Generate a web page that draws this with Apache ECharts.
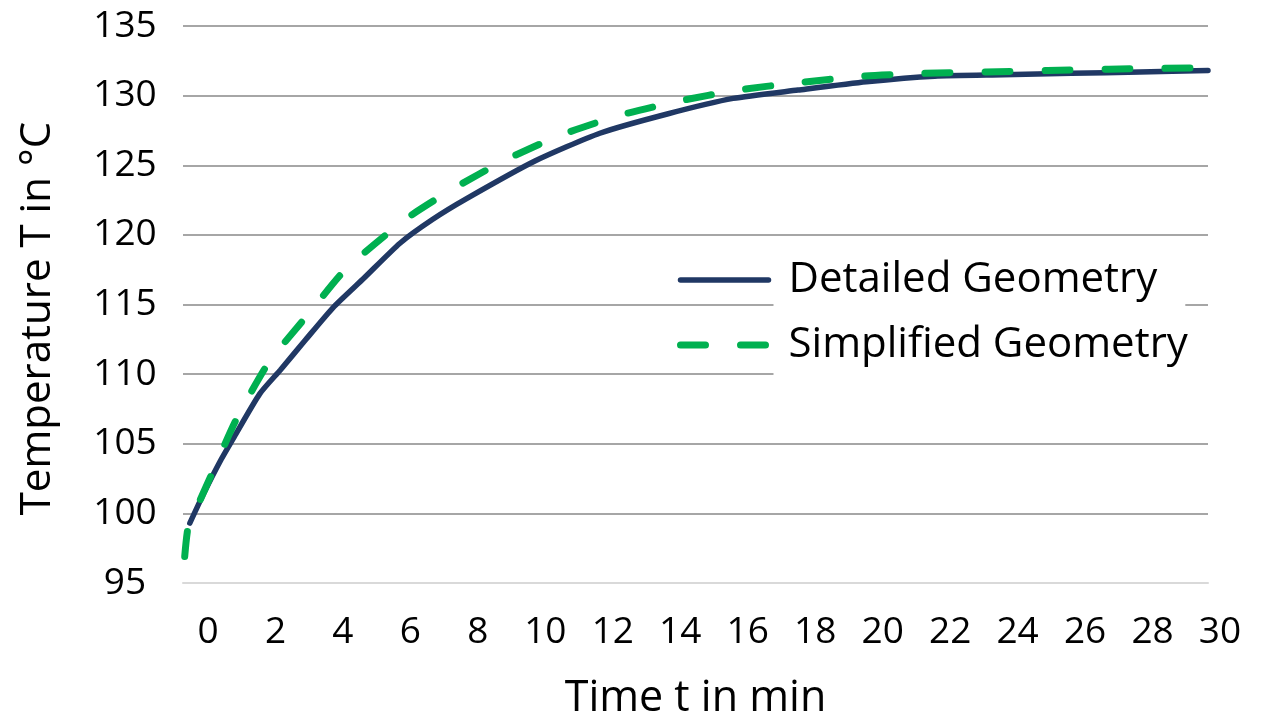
<!DOCTYPE html>
<html>
<head>
<meta charset="utf-8">
<title>Temperature over time</title>
<script src="https://cdn.jsdelivr.net/npm/echarts@6/dist/echarts.min.js"></script>
<style>
    html, body {margin: 0; padding: 0; background: #fff;}
    #chart {width: 1271px; height: 712px;}
</style>
</head>
<body>
<div id="chart"></div>
<script>
//  Detailed Geometry (min, °C)
const detailedTime = [0.2, 0.6, 1.1, 1.5, 2.25, 2.85, 3.6, 4.4, 5.3, 6.35, 7.3, 8.3, 10.3, 12.2, 14.2, 16.1, 18.0, 20.0, 22.0, 24.0, 26.0, 28.0, 30.0];
const detailedTemp = [99.3, 101.4, 103.8, 105.5, 108.6, 110.3, 112.5, 114.8, 116.9, 119.4, 121.1, 122.6, 125.3, 127.3, 128.7, 129.8, 130.4, 131.0, 131.4, 131.5, 131.6, 131.7, 131.8];
//  Simplified Geometry
const simplifiedTime = [0.05, 0.15, 0.4, 0.8, 1.55, 2.5, 3.7, 4.75, 6.5, 7.9, 9.45, 11.1, 12.8, 14.5, 16.25, 17.9, 19.9, 21.7, 23.5, 25.3, 27.1, 30.0];
const simplifiedTemp = [96.9, 99.0, 100.4, 102.6, 106.7, 110.8, 114.4, 117.5, 121.1, 123.3, 125.4, 127.2, 128.6, 129.6, 130.4, 130.9, 131.4, 131.6, 131.7, 131.8, 131.9, 132.0];
//  刻度 [min, max, interval]
const timeTicks = [0, 30, 2];
const tempTicks = [95, 135, 5];

const fontFamily = '"Open Sans", "Noto Sans", sans-serif';

const zip = function (xs, ys) {
    return xs.map(function (x, i) {
        return [x, ys[i]];
    });
};

const option = {
    animation: false,
    backgroundColor: '#fff',
    textStyle: {fontFamily: fontFamily, color: '#000'},
    grid: [
        //  数据区
        {left: 183, right: 63, top: 26, bottom: 129, outerBoundsMode: 'none'},
        //  横轴刻度文字 (offset)
        {left: 208, right: 51, top: 26, bottom: 129, outerBoundsMode: 'none'},
    ],
    legend: {
        orient: 'vertical',
        left: 677,
        top: 250,
        padding: 0,
        itemGap: 5,
        itemWidth: 88,
        itemHeight: 14,
        selectedMode: false,
        data: ['Detailed Geometry', 'Simplified Geometry'],
        //  只要线，不要圆点
        itemStyle: {opacity: 0},
        lineStyle: {width: 'inherit'},
        textStyle: {
            fontFamily: fontFamily,
            fontSize: 42,
            color: '#000',
            lineHeight: 42,
            backgroundColor: '#fff',
            padding: [7, 28, 11, 15],
        },
    },
    xAxis: [
        {
            type: 'value',
            gridIndex: 0,
            min: timeTicks[0],
            max: timeTicks[1],
            interval: timeTicks[2],
            name: 'Time t in min',
            nameLocation: 'middle',
            nameGap: 94,
            nameTextStyle: {fontFamily: fontFamily, fontSize: 43, color: '#000'},
            axisLine: {show: true, lineStyle: {color: '#d9d9d9', width: 2}},
            axisTick: {show: false},
            axisLabel: {show: false},
            splitLine: {show: false},
        },
        {
            type: 'value',
            gridIndex: 1,
            min: timeTicks[0],
            max: timeTicks[1],
            interval: timeTicks[2],
            axisLine: {show: false},
            axisTick: {show: false},
            splitLine: {show: false},
            axisLabel: {
                fontFamily: fontFamily,
                fontSize: 37,
                color: '#000',
                margin: 31,
            },
        },
    ],
    yAxis: [
        {
            type: 'value',
            gridIndex: 0,
            min: tempTicks[0],
            max: tempTicks[1],
            interval: tempTicks[2],
            name: 'Temperature T in °C',
            nameLocation: 'middle',
            nameGap: 124,
            nameTextStyle: {
                fontFamily: fontFamily,
                fontSize: 42,
                color: '#000',
                padding: [0, 28, 0, 0],
            },
            axisLine: {show: false},
            axisTick: {show: false},
            axisLabel: {
                fontFamily: fontFamily,
                fontSize: 37,
                color: '#000',
                align: 'center',
                margin: 58,
            },
            splitLine: {
                showMinLine: false,
                lineStyle: {color: '#a6a6a6', width: 2},
            },
        },
        {
            type: 'value',
            gridIndex: 1,
            min: tempTicks[0],
            max: tempTicks[1],
            show: false,
        },
    ],
    series: [
        {
            name: 'Detailed Geometry',
            type: 'line',
            xAxisIndex: 0,
            yAxisIndex: 0,
            symbol: 'none',
            smooth: 0.2,
            lineStyle: {color: '#203864', width: 5.5, cap: 'round'},
            itemStyle: {color: '#203864'},
            data: zip(detailedTime, detailedTemp),
            z: 2,
        },
        {
            name: 'Simplified Geometry',
            type: 'line',
            xAxisIndex: 0,
            yAxisIndex: 0,
            symbol: 'none',
            smooth: 0.2,
            lineStyle: {color: '#00b050', width: 7, type: [25, 35], cap: 'round'},
            itemStyle: {color: '#00b050'},
            data: zip(simplifiedTime, simplifiedTemp),
            z: 3,
        },
    ],
};

const myChart = echarts.init(document.getElementById('chart'));
myChart.setOption(option);
</script>
</body>
</html>
